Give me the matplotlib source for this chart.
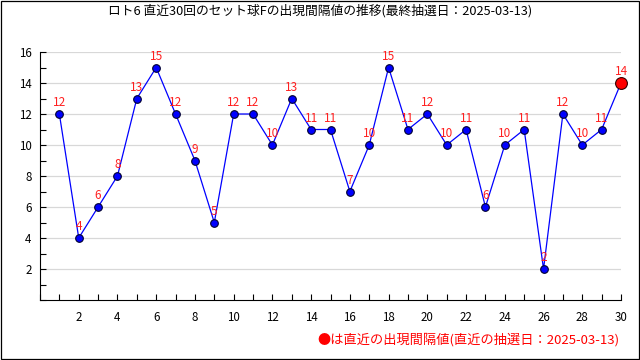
import matplotlib
matplotlib.use('Agg')
import matplotlib.pyplot as plt
from matplotlib.ticker import MultipleLocator
from matplotlib.patches import Rectangle

plt.rcParams['font.family'] = ['Noto Sans CJK JP', 'DejaVu Sans']

# ---------------- DATA ----------------
draws = list(range(1, 31))
intervals = [12, 4, 6, 8, 13, 15, 12, 9, 5, 12,
             12, 10, 13, 11, 11, 7, 10, 15, 11, 12,
             10, 11, 6, 10, 11, 2, 12, 10, 11, 14]
title = 'ロト6 直近30回のセット球Fの出現間隔値の推移(最終抽選日：2025-03-13)'
note = '●は直近の出現間隔値(直近の抽選日：2025-03-13)'

# ---------------- FIGURE ----------------
fig = plt.figure(figsize=(6.4, 3.6), dpi=100)
ax = fig.add_axes([40 / 640, 60 / 360, 581 / 640, 248 / 360])

ax.plot(draws, intervals, '-', color='#0000ff', linewidth=0.9, zorder=2)
ax.plot(draws[:-1], intervals[:-1], 'o', markersize=5.5,
        markerfacecolor='#0000ff', markeredgecolor='#000030',
        markeredgewidth=0.8, zorder=3)
ax.plot(draws[-1], intervals[-1], 'o', markersize=8.5,
        markerfacecolor='#ff0000', markeredgecolor='#300000',
        markeredgewidth=0.8, zorder=3, clip_on=False)

for x, y in zip(draws, intervals):
    ax.annotate(str(y), (x, y), textcoords='offset points', xytext=(0, 3.5),
                ha='center', va='bottom', fontsize=8.5, color='#ff2020',
                annotation_clip=False)

ax.set_xlim(0, 30)
ax.set_ylim(0, 16)
ax.xaxis.set_minor_locator(MultipleLocator(1))
ax.yaxis.set_minor_locator(MultipleLocator(1))
ax.set_xticks(range(2, 31, 2))
ax.set_yticks(range(2, 17, 2))
ax.tick_params(which='both', direction='in', length=4, width=0.8,
               labelsize=8.3, colors='black')
ax.tick_params(axis='x', pad=8)
ax.tick_params(axis='y', pad=6)
ax.grid(True, axis='y', color='#d8d8d8', linewidth=0.9)
ax.set_axisbelow(True)
for side in ['top', 'right']:
    ax.spines[side].set_visible(False)

fig.text(0.5, 1 - 11 / 360, title, ha='center', va='center', fontsize=9.2)
fig.text(620 / 640, 1 - 340 / 360, note, ha='right', va='center',
         fontsize=9.5, color='#ff0000')

# outer frame
fig.patches.append(Rectangle((0.0008, 0.0014), 0.9984, 0.997,
                             transform=fig.transFigure, fill=False,
                             edgecolor='black', linewidth=0.9))

plt.savefig('out.png', dpi=100)
